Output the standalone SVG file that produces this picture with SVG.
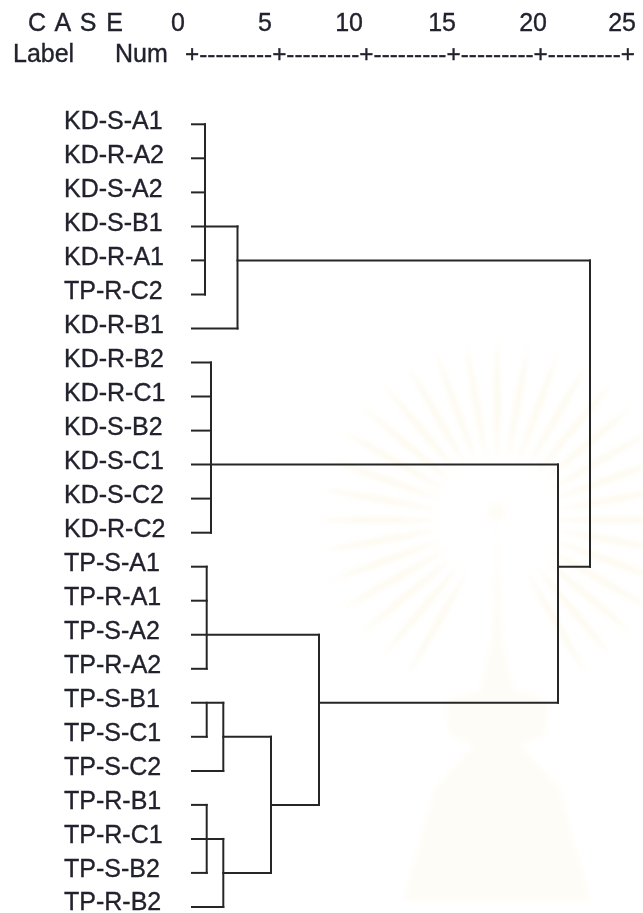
<svg xmlns="http://www.w3.org/2000/svg" xmlns:xlink="http://www.w3.org/1999/xlink" width="643" height="913" viewBox="0 0 643 913">
<style>
text{font-family:"Liberation Sans",Arial,sans-serif;font-size:25px;fill:#22222e;stroke:#22222e;stroke-width:0.35}
text.ruler{font-size:24px}
.lk line{stroke:#262626;stroke-width:2;stroke-linecap:square}
</style>
<defs>
<filter id="soft" x="-20%" y="-20%" width="140%" height="140%"><feGaussianBlur stdDeviation="2"/></filter>
<path id="blade" d="M0,-58 Q7,-118 0,-180 Q-7,-118 0,-58 Z"/>
</defs>
<rect width="643" height="913" fill="#ffffff"/>
<g id="watermark" filter="url(#soft)" fill="#efd68c">
<g transform="translate(497,520)" opacity="0.13">
<use xlink:href="#blade" transform="rotate(0)"/><use xlink:href="#blade" transform="rotate(10)"/><use xlink:href="#blade" transform="rotate(20)"/><use xlink:href="#blade" transform="rotate(30)"/><use xlink:href="#blade" transform="rotate(40)"/><use xlink:href="#blade" transform="rotate(50)"/><use xlink:href="#blade" transform="rotate(60)"/><use xlink:href="#blade" transform="rotate(70)"/><use xlink:href="#blade" transform="rotate(80)"/><use xlink:href="#blade" transform="rotate(90)"/><use xlink:href="#blade" transform="rotate(100)"/><use xlink:href="#blade" transform="rotate(110)"/><use xlink:href="#blade" transform="rotate(120)"/><use xlink:href="#blade" transform="rotate(130)"/><use xlink:href="#blade" transform="rotate(140)"/><use xlink:href="#blade" transform="rotate(150)"/>
<use xlink:href="#blade" transform="rotate(210)"/><use xlink:href="#blade" transform="rotate(220)"/><use xlink:href="#blade" transform="rotate(230)"/><use xlink:href="#blade" transform="rotate(240)"/><use xlink:href="#blade" transform="rotate(250)"/><use xlink:href="#blade" transform="rotate(260)"/><use xlink:href="#blade" transform="rotate(270)"/><use xlink:href="#blade" transform="rotate(280)"/><use xlink:href="#blade" transform="rotate(290)"/><use xlink:href="#blade" transform="rotate(300)"/><use xlink:href="#blade" transform="rotate(310)"/><use xlink:href="#blade" transform="rotate(320)"/><use xlink:href="#blade" transform="rotate(330)"/><use xlink:href="#blade" transform="rotate(340)"/><use xlink:href="#blade" transform="rotate(350)"/>
</g>
<g opacity="0.08">
<circle cx="497" cy="512" r="9"/>
<path d="M497,525 L502,640 L514,690 L548,700 L545,735 L520,745 L560,790 L590,900 L404,900 L434,790 L474,745 L449,735 L446,700 L480,690 L492,640 Z"/>
</g>
</g>
<g id="header">
<text x="28" y="31" textLength="95" lengthAdjust="spacing">C A S E</text>
<text x="185" y="31" text-anchor="end">0</text>
<text x="272" y="31" text-anchor="end">5</text>
<text x="363" y="31" text-anchor="end">10</text>
<text x="456" y="31" text-anchor="end">15</text>
<text x="547" y="31" text-anchor="end">20</text>
<text x="636" y="31" text-anchor="end">25</text>
<text x="13" y="62">Label</text>
<text x="115" y="62">Num</text>
<text class="ruler" x="185" y="62" textLength="450" lengthAdjust="spacingAndGlyphs">+---------+---------+---------+---------+---------+</text>
</g>
<g id="labels">
<g id="n0"><text x="64" y="128.5">KD-S-A1</text></g>
<g id="n1"><text x="64" y="162.5">KD-R-A2</text></g>
<g id="n2"><text x="64" y="196.5">KD-S-A2</text></g>
<g id="n3"><text x="64" y="230.5">KD-S-B1</text></g>
<g id="n4"><text x="64" y="264.5">KD-R-A1</text></g>
<g id="n5"><text x="64" y="298.5">TP-R-C2</text></g>
<g id="n6"><text x="64" y="332.5">KD-R-B1</text></g>
<g id="n7"><text x="64" y="366.5">KD-R-B2</text></g>
<g id="n8"><text x="64" y="400.5">KD-R-C1</text></g>
<g id="n9"><text x="64" y="434.6">KD-S-B2</text></g>
<g id="n10"><text x="64" y="468.6">KD-S-C1</text></g>
<g id="n11"><text x="64" y="502.6">KD-S-C2</text></g>
<g id="n12"><text x="64" y="536.7">KD-R-C2</text></g>
<g id="n13"><text x="64" y="570.7">TP-S-A1</text></g>
<g id="n14"><text x="64" y="604.7">TP-R-A1</text></g>
<g id="n15"><text x="64" y="638.7">TP-S-A2</text></g>
<g id="n16"><text x="64" y="672.8">TP-R-A2</text></g>
<g id="n17"><text x="64" y="706.8">TP-S-B1</text></g>
<g id="n18"><text x="64" y="740.8">TP-S-C1</text></g>
<g id="n19"><text x="64" y="774.9">TP-S-C2</text></g>
<g id="n20"><text x="64" y="808.9">TP-R-B1</text></g>
<g id="n21"><text x="64" y="842.9">TP-R-C1</text></g>
<g id="n22"><text x="64" y="876.9">TP-S-B2</text></g>
<g id="n23"><text x="64" y="909.5">TP-R-B2</text></g>
</g>
<g id="connectors" class="lk">
<line x1="192" y1="124.3" x2="205" y2="124.3"/>
<line x1="192" y1="158.3" x2="205" y2="158.3"/>
<line x1="192" y1="192.4" x2="205" y2="192.4"/>
<line x1="192" y1="226.4" x2="237.5" y2="226.4"/>
<line x1="192" y1="260.4" x2="205" y2="260.4"/>
<line x1="192" y1="294.5" x2="205" y2="294.5"/>
<line x1="205" y1="124.3" x2="205" y2="294.5"/>
<line x1="192" y1="328.5" x2="237.5" y2="328.5"/>
<line x1="237.5" y1="226.4" x2="237.5" y2="328.5"/>
<line x1="237.5" y1="260.4" x2="590" y2="260.4"/>
<line x1="590" y1="260.4" x2="590" y2="566.7"/>
<line x1="192" y1="362.5" x2="211" y2="362.5"/>
<line x1="192" y1="396.5" x2="211" y2="396.5"/>
<line x1="192" y1="430.6" x2="211" y2="430.6"/>
<line x1="192" y1="464.6" x2="558" y2="464.6"/>
<line x1="192" y1="498.6" x2="211" y2="498.6"/>
<line x1="192" y1="532.7" x2="211" y2="532.7"/>
<line x1="211" y1="362.5" x2="211" y2="532.7"/>
<line x1="558" y1="464.6" x2="558" y2="702.8"/>
<line x1="558" y1="566.7" x2="590" y2="566.7"/>
<line x1="192" y1="566.7" x2="206.7" y2="566.7"/>
<line x1="192" y1="600.7" x2="206.7" y2="600.7"/>
<line x1="192" y1="634.7" x2="319" y2="634.7"/>
<line x1="192" y1="668.8" x2="206.7" y2="668.8"/>
<line x1="206.7" y1="566.7" x2="206.7" y2="668.8"/>
<line x1="319" y1="634.7" x2="319" y2="804.9"/>
<line x1="319" y1="702.8" x2="558" y2="702.8"/>
<line x1="192" y1="702.8" x2="223.3" y2="702.8"/>
<line x1="192" y1="736.8" x2="206.7" y2="736.8"/>
<line x1="206.7" y1="702.8" x2="206.7" y2="736.8"/>
<line x1="192" y1="770.9" x2="223.3" y2="770.9"/>
<line x1="223.3" y1="702.8" x2="223.3" y2="770.9"/>
<line x1="223.3" y1="736.8" x2="271" y2="736.8"/>
<line x1="271" y1="736.8" x2="271" y2="872.9"/>
<line x1="271" y1="804.9" x2="319" y2="804.9"/>
<line x1="192" y1="804.9" x2="206.7" y2="804.9"/>
<line x1="192" y1="838.9" x2="223.3" y2="838.9"/>
<line x1="192" y1="872.9" x2="206.7" y2="872.9"/>
<line x1="206.7" y1="804.9" x2="206.7" y2="872.9"/>
<line x1="192" y1="907" x2="223.3" y2="907"/>
<line x1="223.3" y1="838.9" x2="223.3" y2="907"/>
<line x1="223.3" y1="872.9" x2="271" y2="872.9"/>
</g>
</svg>
